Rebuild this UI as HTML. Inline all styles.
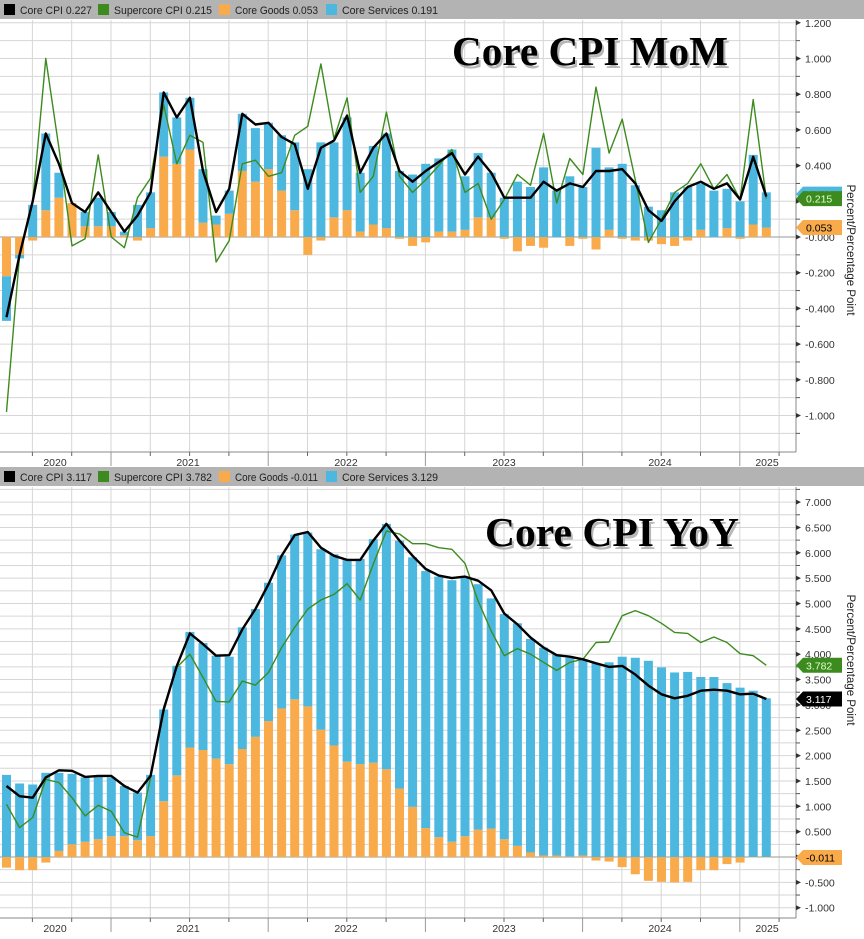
<!DOCTYPE html>
<html><head><meta charset="utf-8">
<style>
html,body{margin:0;padding:0;background:#fff;}
body{width:864px;height:934px;overflow:hidden;}
svg text{font-family:"Liberation Sans",sans-serif;}
</style></head>
<body>
<svg id="c" width="864" height="934" xmlns="http://www.w3.org/2000/svg"></svg>
<script>
const NS="http://www.w3.org/2000/svg";
const svg=document.getElementById('c');
function el(t,a,txt){const e=document.createElementNS(NS,t);for(const k in a)e.setAttribute(k,a[k]);if(txt!==undefined)e.textContent=txt;svg.appendChild(e);return e;}
const BLUE="#4cb8e0",ORANGE="#f9aa4a",GREEN="#3d8b1f";
const X=i=>6.5+i*13.1;
const mC=[-0.45,-0.1,0.2,0.58,0.41,0.19,0.14,0.25,0.14, 0.03,0.12,0.25,0.81,0.67,0.78,0.37,0.14,0.27,0.69,0.63,0.64, 0.56,0.52,0.27,0.5,0.54,0.68,0.36,0.5,0.58,0.37,0.31,0.37, 0.42,0.47,0.35,0.45,0.36,0.22,0.22,0.22,0.31,0.26,0.3,0.28, 0.37,0.37,0.38,0.3,0.15,0.09,0.2,0.28,0.31,0.27,0.3,0.21, 0.45,0.227];
const mS=[-0.98,-0.1,0.2,1.0,0.5,-0.05,-0.01,0.46,0.0, -0.06,0.22,0.33,0.74,0.41,0.57,0.53,-0.14,-0.02,0.41,0.43,0.34, 0.36,0.57,0.62,0.97,0.55,0.78,0.25,0.34,0.7,0.34,0.25,0.32, 0.4,0.49,0.25,0.3,0.1,0.21,0.35,0.29,0.58,0.19,0.44,0.35, 0.84,0.47,0.66,0.32,-0.03,0.1,0.25,0.3,0.41,0.27,0.35,0.21, 0.77,0.215];
const mG=[-0.22,-0.1,-0.02,0.15,0.22,0.19,0.06,0.06,0.06, 0.01,-0.02,0.05,0.45,0.41,0.49,0.08,0.07,0.13,0.37,0.31,0.38, 0.26,0.15,-0.1,-0.02,0.11,0.15,0.03,0.07,0.05,-0.01,-0.05,-0.03, 0.03,0.03,0.04,0.11,0.11,-0.01,-0.08,-0.05,-0.06,0,-0.05,-0.01, -0.07,0.04,-0.01,-0.02,-0.02,-0.04,-0.05,-0.02,0.04,0,0.05,-0.01, 0.07,0.053];
const mSv=[-0.25,-0.02,0.18,0.43,0.14,0.0,0.08,0.16,0.08, 0.02,0.18,0.2,0.36,0.26,0.29,0.3,0.05,0.13,0.32,0.3,0.26, 0.31,0.38,0.38,0.53,0.42,0.52,0.33,0.44,0.53,0.37,0.35,0.41, 0.41,0.46,0.3,0.36,0.25,0.22,0.31,0.28,0.39,0.26,0.34,0.28, 0.5,0.35,0.41,0.29,0.17,0.15,0.25,0.28,0.26,0.26,0.22,0.2, 0.39,0.197];
const yC=[1.40,1.2,1.17,1.57,1.71,1.70,1.58,1.6,1.6, 1.4,1.27,1.6,2.91,3.77,4.41,4.2,3.97,3.98,4.49,4.89,5.38, 5.94,6.35,6.41,6.1,5.94,5.86,5.86,6.24,6.57,6.24,5.94,5.68, 5.55,5.5,5.53,5.45,5.26,4.8,4.59,4.33,4.13,3.98,3.95,3.9, 3.82,3.75,3.77,3.6,3.38,3.21,3.13,3.18,3.28,3.3,3.28,3.21, 3.22,3.117];
const yS=[1.04,0.58,0.78,1.53,1.47,1.17,0.81,1.02,0.9, 0.48,0.39,1.57,2.95,3.74,4.0,3.54,3.07,3.06,3.47,3.39,3.64, 4.13,4.53,4.89,5.07,5.18,5.39,5.07,5.78,6.43, 6.37,6.18,6.18,6.1,6.07,5.79,5.05,4.46,3.97,4.11,4.0,3.84,3.68,3.84,3.9,4.23,4.24,4.76,4.86,4.76,4.61,4.43,4.41,4.23,4.34,4.23,4.01,3.97,3.782];
const yG=[-0.21,-0.26,-0.26,-0.11,0.12,0.25,0.3,0.35,0.41, 0.41,0.33,0.41,1.1,1.61,2.16,2.11,1.94,1.83,2.13,2.37,2.68, 2.93,3.11,2.97,2.51,2.2,1.88,1.83,1.86,1.73,1.35,0.99,0.57, 0.39,0.3,0.41,0.54,0.56,0.35,0.22,0.09,0.03,0.03,0.01,0.03, -0.07,-0.09,-0.2,-0.34,-0.47,-0.49,-0.5,-0.49,-0.26,-0.26,-0.14,-0.11, -0.01,-0.011];
const yT=[1.62,1.45,1.43,1.66,1.66,1.64,1.57,1.6,1.57, 1.4,1.27,1.62,2.91,3.77,4.44,4.22,3.97,3.95,4.53,4.89,5.41, 5.95,6.36,6.4,6.07,5.97,5.88,5.88,6.27,6.57,6.24,5.91,5.64, 5.53,5.46,5.51,5.38,5.1,4.79,4.61,4.3,4.13,4.0,3.93,3.9, 3.82,3.84,3.95,3.93,3.87,3.74,3.64,3.65,3.55,3.55,3.43,3.34, 3.28,3.13];

function panel(o){
  const {top,bot,y0,ppu,gstep,lstep,lmin,lmax} = o;
  const Y=v=>y0-v*ppu;
  el('rect',{x:0,y:o.legY,width:864,height:19,fill:'#b3b3b3'});
  const items=[['#000','Core CPI',o.lv[0],4,72],[GREEN,'Supercore CPI',o.lv[1],98,98],[ORANGE,'Core Goods',o.lv[2],219,83],[BLUE,'Core Services',o.lv[3],326,96]];
  items.forEach(([c,n,v,x,w])=>{el('rect',{x:x,y:o.legY+4,width:11,height:11,fill:c});
    el('text',{x:x+16,y:o.legY+14,'font-size':11,fill:'#222',textLength:w,lengthAdjust:'spacingAndGlyphs'},n+'  '+v);});
  for(let v=lmin-gstep;v<=lmax+gstep+1e-9;v+=gstep){const y=Y(v);if(y<top||y>bot)continue;
    el('line',{x1:0,x2:796,y1:y,y2:y,stroke:'#d6d6d6','stroke-width':1});}
  for(let k=-2;k<=17;k++){const x=111+39.3*k;if(x<0||x>795)continue;
    el('line',{x1:x,x2:x,y1:top,y2:bot,stroke:'#d6d6d6','stroke-width':1});}
  el('line',{x1:0,x2:796,y1:Y(0),y2:Y(0),stroke:'#999','stroke-width':1});
  for(let i=0;i<59;i++){const x=X(i)-4.5,g=o.G[i];
    if(o.mode==='mom'){const s=o.Sv[i];
      let pos=0,neg=0;
      if(g>=0){el('rect',{x,y:Y(g),width:9,height:g*ppu,fill:ORANGE});pos=g;}else{el('rect',{x,y:Y(0),width:9,height:-g*ppu,fill:ORANGE});neg=g;}
      if(s>=0){el('rect',{x,y:Y(pos+s),width:9,height:s*ppu,fill:BLUE});}else{el('rect',{x,y:Y(neg),width:9,height:-s*ppu,fill:BLUE});}
    } else {const t=o.T[i];
      if(g>=0){el('rect',{x,y:Y(g),width:9,height:g*ppu,fill:ORANGE});el('rect',{x,y:Y(t),width:9,height:(t-g)*ppu,fill:BLUE});}
      else{el('rect',{x,y:Y(0),width:9,height:-g*ppu,fill:ORANGE});el('rect',{x,y:Y(t),width:9,height:t*ppu,fill:BLUE});}
    }}
  const pts=a=>a.map((v,i)=>X(i).toFixed(1)+','+Y(v).toFixed(1)).join(' ');
  el('polyline',{points:pts(o.S),fill:'none',stroke:GREEN,'stroke-width':1.4,'stroke-linejoin':'round'});
  el('polyline',{points:pts(o.C),fill:'none',stroke:'#000','stroke-width':2.4,'stroke-linejoin':'round'});
  el('text',{x:o.tx+2,y:o.ty+3,'font-size':o.fs,'font-weight':'bold',fill:'#888',opacity:0.6,textLength:o.tw,lengthAdjust:'spacingAndGlyphs',style:'font-family:"Liberation Serif",serif'},o.title);
  el('text',{x:o.tx,y:o.ty,'font-size':o.fs,'font-weight':'bold',fill:'#000',textLength:o.tw,lengthAdjust:'spacingAndGlyphs',style:'font-family:"Liberation Serif",serif'},o.title);
  el('line',{x1:796,x2:796,y1:top,y2:bot,stroke:'#888','stroke-width':1});
  el('line',{x1:0,x2:796,y1:bot,y2:bot,stroke:'#888','stroke-width':1});
  for(let v=lmin-gstep;v<=lmax+gstep+1e-9;v+=gstep){const y=Y(v);if(y<top||y>bot)continue;
    el('line',{x1:796,x2:800,y1:y,y2:y,stroke:'#555','stroke-width':1});}
  for(let v=lmin;v<=lmax+1e-9;v+=lstep){const y=Y(v);
    el('path',{d:`M796 ${y-2.5} L801 ${y} L796 ${y+2.5}Z`,fill:'#333'});
    el('text',{x:805,y:y+4,'font-size':10.5,fill:'#333'},v.toFixed(3));}
  for(let k=-2;k<=17;k++){const x=111+39.3*k;if(x<0||x>795)continue;
    const yr=((k%4)+4)%4===0;
    el('line',{x1:x,x2:x,y1:bot,y2:bot+(yr?14:4),stroke:yr?'#999':'#666','stroke-width':1});}
  [['2020',55],['2021',188],['2022',346],['2023',504],['2024',660],['2025',767]].forEach(([t,x])=>
    el('text',{x,y:bot+14,'font-size':10.5,fill:'#333','text-anchor':'middle'},t));
  el('text',{x:0,y:0,'font-size':11.5,fill:'#222','text-anchor':'middle',transform:`translate(847,${o.rl}) rotate(90)`},'Percent/Percentage Point');
  o.tags.forEach(([v,bg,fg])=>{const y=Y(v);
    el('path',{d:`M796 ${y} L803 ${y-7.5} L842 ${y-7.5} L842 ${y+7.5} L803 ${y+7.5}Z`,fill:bg});
    el('text',{x:806,y:y+4,'font-size':10.5,fill:fg},v.toFixed(3));});
}
panel({top:20,bot:452,y0:237,ppu:178.5,gstep:0.1,lstep:0.2,lmin:-1.0,lmax:1.2,legY:0,
  lv:['0.227','0.215','0.053','0.191'],mode:'mom',G:mG,Sv:mSv,C:mC,S:mS,
  title:'Core CPI MoM',tx:452,ty:65,fs:41,tw:276,rl:250,
  tags:[[0.24,BLUE,'#fff'],[0.215,GREEN,'#dfffcf'],[0.053,ORANGE,'#000']]});
panel({top:487,bot:918,y0:857,ppu:50.7,gstep:0.25,lstep:0.5,lmin:-1.0,lmax:7.0,legY:467,
  lv:['3.117','3.782','-0.011','3.129'],mode:'yoy',G:yG,T:yT,C:yC,S:yS,
  title:'Core CPI YoY',tx:485,ty:546,fs:41,tw:254,rl:660,
  tags:[[3.782,GREEN,'#dfffcf'],[3.117,'#000','#fff'],[-0.011,ORANGE,'#000']]});
</script>
</body></html>
